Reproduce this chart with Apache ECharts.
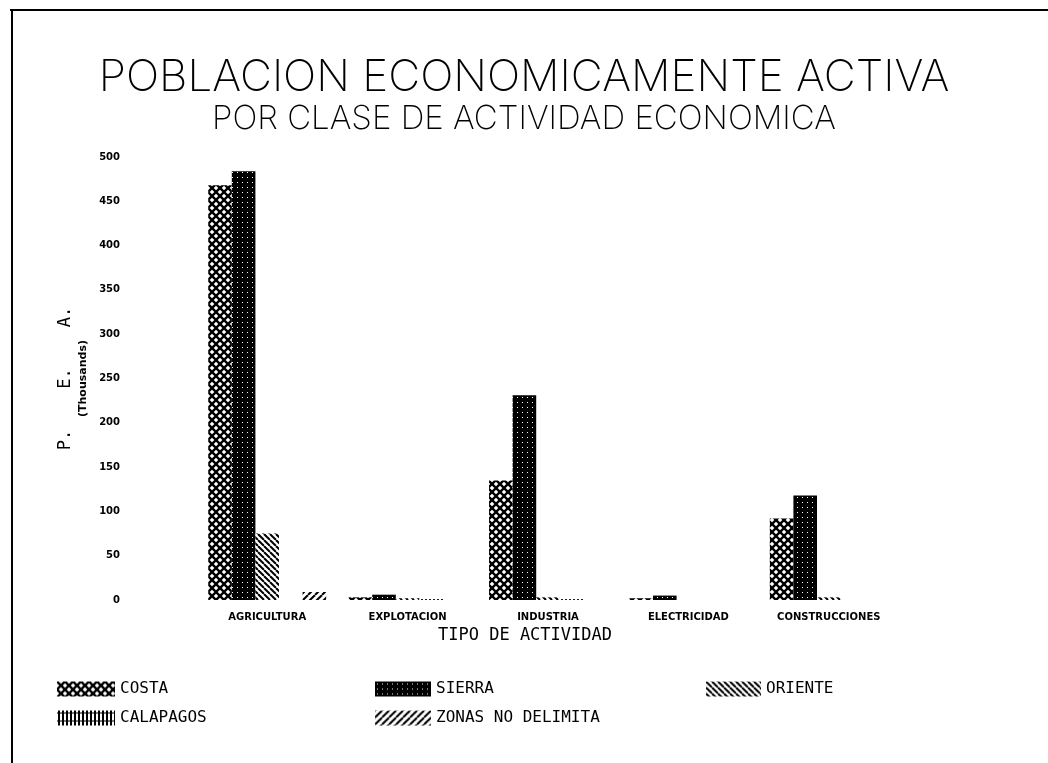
<!DOCTYPE html>
<html>
<head>
<meta charset="utf-8">
<title>PEA por clase de actividad</title>
<script src="https://cdn.jsdelivr.net/npm/echarts@6/dist/echarts.min.js"></script>
<style>
  html, body { margin: 0; padding: 0; background: #fff; }
  #main { width: 1048px; height: 763px; }
</style>
</head>
<body>
<div id="main"></div>
<script>
// datos (miles de personas)
var categorias = ['AGRICULTURA', 'EXPLOTACION', 'INDUSTRIA', 'ELECTRICIDAD', 'CONSTRUCCIONES'];
var costa = [468, 3, 135, 2, 92];
var sierra = [484, 6, 231, 5, 118];
var oriente = [75, 2, 3, 0, 3];
var calapagos = [0, 1, 1, 0, 0];
var zonas = [9, 0, 0, 0, 0];
var yTicks = [0, 50, 100, 150, 200, 250, 300, 350, 400, 450, 500];

var monoFont = 'DejaVu Sans Mono';
var titleFont = 'Inter';

// tramas en blanco y negro
function makePattern(w, h, draw) {
    var c = document.createElement('canvas');
    c.width = w;
    c.height = h;
    var ctx = c.getContext('2d');
    ctx.fillStyle = '#fff';
    ctx.fillRect(0, 0, w, h);
    ctx.strokeStyle = '#000';
    ctx.fillStyle = '#000';
    draw(ctx, w, h);
    return { image: c, repeat: 'repeat' };
}

var patCosta = makePattern(8, 8, function (ctx, w, h) {
    ctx.lineWidth = 2.4;
    for (var k = -1; k <= 1; k++) {
        ctx.beginPath(); ctx.moveTo(k * w, 0); ctx.lineTo(k * w + w, h); ctx.stroke();
        ctx.beginPath(); ctx.moveTo(k * w, h); ctx.lineTo(k * w + w, 0); ctx.stroke();
    }
});
var patSierra = makePattern(5, 5, function (ctx, w, h) {
    ctx.fillRect(0, 0, w, h);
    ctx.fillStyle = '#fff';
    ctx.fillRect(2, 2, 1, 1);
});
var patOriente = makePattern(6, 6, function (ctx, w, h) {
    ctx.lineWidth = 2;
    for (var k = -1; k <= 1; k++) {
        ctx.beginPath(); ctx.moveTo(k * w, 0); ctx.lineTo(k * w + w, h); ctx.stroke();
    }
});
var patCalapagos = makePattern(4, 8, function (ctx, w, h) {
    ctx.fillRect(1, 0, 2, h);
    ctx.fillRect(0, 2, w, 1);
});
var patZonas = makePattern(7, 7, function (ctx, w, h) {
    ctx.lineWidth = 2;
    for (var k = -1; k <= 1; k++) {
        ctx.beginPath(); ctx.moveTo(k * w, h); ctx.lineTo(k * w + w, 0); ctx.stroke();
    }
});

var myChart = echarts.init(document.getElementById('main'));

function serie(nombre, datos, trama) {
    return {
        name: nombre,
        type: 'bar',
        barGap: '0%',
        barCategoryGap: '16%',
        itemStyle: { color: trama },
        data: datos
    };
}

var legendText = { fontFamily: monoFont, fontSize: 16, color: '#000', lineHeight: 16 };

myChart.setOption({
    backgroundColor: '#fff',
    animation: false,
    title: {
        text: 'POBLACION ECONOMICAMENTE ACTIVA',
        subtext: 'POR CLASE DE ACTIVIDAD ECONOMICA',
        left: 'center',
        top: 51,
        itemGap: 3,
        textStyle: { fontFamily: titleFont, fontSize: 44, fontWeight: 200, color: '#000' },
        subtextStyle: { fontFamily: titleFont, fontSize: 33, fontWeight: 200, color: '#000' }
    },
    legend: [
        { orient: 'vertical', left: 57, top: 681, padding: 0, itemWidth: 58, itemHeight: 15, itemGap: 13,
          icon: 'rect', textStyle: legendText, data: ['COSTA', 'CALAPAGOS'] },
        { orient: 'vertical', left: 375, top: 681, padding: 0, itemWidth: 56, itemHeight: 15, itemGap: 13,
          icon: 'rect', textStyle: legendText, data: ['SIERRA', 'ZONAS NO DELIMITA'] },
        { orient: 'vertical', left: 706, top: 681, padding: 0, itemWidth: 55, itemHeight: 15, itemGap: 13,
          icon: 'rect', textStyle: legendText, data: ['ORIENTE'] }
    ],
    grid: { left: 197, right: 149, top: 157, bottom: 163 },
    xAxis: {
        type: 'category',
        data: categorias,
        name: 'TIPO DE ACTIVIDAD',
        nameLocation: 'middle',
        nameGap: 24,
        nameTextStyle: { fontFamily: monoFont, fontSize: 17, color: '#000', padding: [0, 46, 0, 0] },
        axisLine: { show: false },
        axisTick: { show: false },
        axisLabel: { margin: 12, fontFamily: 'DejaVu Sans', fontSize: 10, fontWeight: 'bold', color: '#000' }
    },
    yAxis: {
        type: 'value',
        min: yTicks[0],
        max: yTicks[yTicks.length - 1],
        interval: 50,
        name: '{a|P.    E.    A.}\n{b|(Thousands)}',
        nameLocation: 'middle',
        nameRotate: 90,
        nameGap: 104,
        nameTextStyle: {
            rich: {
                a: { fontFamily: monoFont, fontSize: 17, color: '#000', lineHeight: 20 },
                b: { fontFamily: 'DejaVu Sans', fontSize: 11, fontWeight: 'bold', color: '#000', lineHeight: 14 }
            }
        },
        axisLine: { show: false },
        axisTick: { show: false },
        splitLine: { show: false },
        axisLabel: { margin: 77, fontFamily: 'DejaVu Sans', fontSize: 10, fontWeight: 'bold', color: '#000' }
    },
    series: [
        serie('COSTA', costa, patCosta),
        serie('SIERRA', sierra, patSierra),
        serie('ORIENTE', oriente, patOriente),
        serie('CALAPAGOS', calapagos, patCalapagos),
        serie('ZONAS NO DELIMITA', zonas, patZonas)
    ],
    graphic: [
        // marco del papel
        { type: 'line', shape: { x1: 10, y1: 10, x2: 1048, y2: 10 }, style: { stroke: '#000', lineWidth: 2 } },
        { type: 'line', shape: { x1: 12, y1: 10, x2: 12, y2: 763 }, style: { stroke: '#000', lineWidth: 2 } }
    ]
});
</script>
</body>
</html>
